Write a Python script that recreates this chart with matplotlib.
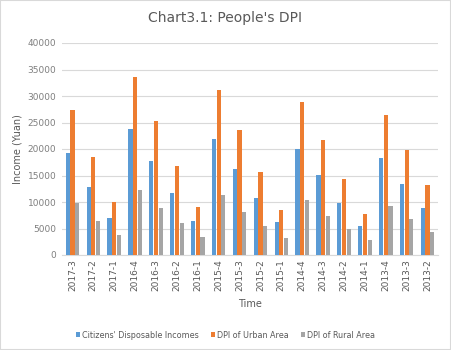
import matplotlib.pyplot as plt
import numpy as np
from matplotlib.patches import Rectangle

# Data
quarters = ["2017-3", "2017-2", "2017-1", "2016-4", "2016-3", "2016-2",
            "2016-1", "2015-4", "2015-3", "2015-2", "2015-1", "2014-4",
            "2014-3", "2014-2", "2014-1", "2013-4", "2013-3", "2013-2"]
citizens_dpi = [19300, 12900, 7050, 23850, 17800, 11750, 6500, 21950, 16300,
                10800, 6150, 20050, 15050, 9850, 5550, 18350, 13450, 8950]
urban_dpi = [27400, 18400, 9950, 33600, 25300, 16850, 9150, 31200, 23500,
             15750, 8550, 28900, 21750, 14400, 7800, 26500, 19850, 13250]
rural_dpi = [9800, 6500, 3850, 12350, 8950, 5950, 3450, 11400, 8200,
             5550, 3300, 10450, 7450, 4950, 2900, 9300, 6700, 4400]

series_names = ["Citizens' Disposable Incomes", "DPI of Urban Area", "DPI of Rural Area"]
colors = ["#5B9BD5", "#ED7D31", "#A5A5A5"]
text_color = "#595959"

fig = plt.figure(figsize=(4.51, 3.5), dpi=100)
ax = fig.add_axes([62 / 451, 95 / 350, 376 / 451, 212 / 350])

x = np.arange(len(quarters))
w = 0.2
for k, (vals, name, c) in enumerate(zip([citizens_dpi, urban_dpi, rural_dpi], series_names, colors)):
    ax.bar(x + (k - 1) * 0.225, vals, width=w, color=c, label=name, zorder=3)

ax.set_ylim(0, 40000)
ax.set_xlim(-0.5, len(quarters) - 0.5)
ax.set_yticks(np.arange(0, 40001, 5000))
ax.yaxis.grid(True, color="#d9d9d9", linewidth=0.8, zorder=0)
ax.set_xticks(x)
ax.set_xticklabels(quarters, rotation=90)
ax.tick_params(axis="both", length=0, labelsize=6.5, colors=text_color)
ax.tick_params(axis="y", pad=4, colors="#7f7f7f")
ax.tick_params(axis="x", pad=3)
for side in ["top", "right", "left"]:
    ax.spines[side].set_visible(False)
ax.spines["bottom"].set_color("#d9d9d9")

ax.set_ylabel("Income (Yuan)", fontsize=7, color=text_color)
ax.yaxis.set_label_coords(-40 / 376, 0.5)
ax.set_xlabel("Time", fontsize=7, color=text_color, labelpad=6)

fig.text(0.5, 1 - 18 / 350, "Chart3.1: People's DPI", ha="center", va="center",
         fontsize=10, color=text_color)

fig.legend(loc="center", bbox_to_anchor=(0.5, 1 - 335 / 350), ncol=3, frameon=False,
           fontsize=5.8, handlelength=0.45, handleheight=0.45, handletextpad=0.25,
           columnspacing=1.6, labelcolor=text_color)

fig.patches.append(Rectangle((0, 0), 1, 1, transform=fig.transFigure, fill=False,
                             edgecolor="#d9d9d9", linewidth=1.5))

fig.savefig("out.png", dpi=100)
